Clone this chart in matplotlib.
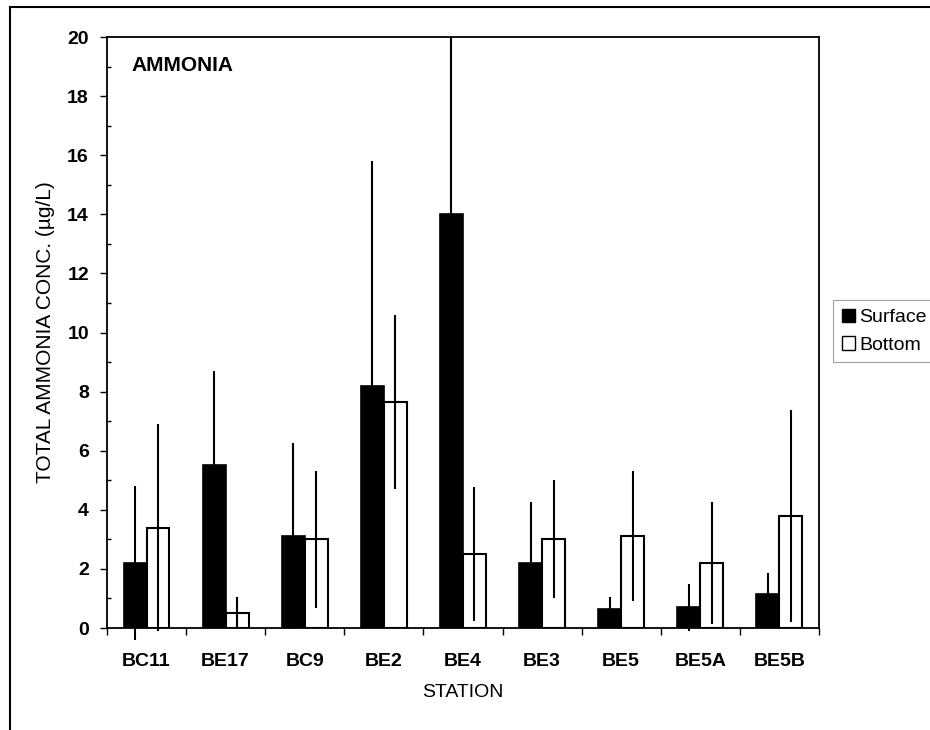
"""Ammonia concentrations by station, surface vs bottom."""

import matplotlib
matplotlib.use("Agg")
import matplotlib.pyplot as plt
import numpy as np
from matplotlib.lines import Line2D
from matplotlib.patches import Patch, Rectangle

plt.rcParams["font.family"] = ["Liberation Sans", "DejaVu Sans"]

stations = ["BC11", "BE17", "BC9", "BE2", "BE4", "BE3", "BE5", "BE5A", "BE5B"]
surface_mean = [2.2, 5.5, 3.1, 8.2, 14.0, 2.2, 0.65, 0.7, 1.15]
surface_sd = [2.6, 3.2, 3.15, 7.6, 7.5, 2.05, 0.4, 0.8, 0.7]
bottom_mean = [3.4, 0.52, 3.0, 7.65, 2.5, 3.0, 3.1, 2.2, 3.8]
bottom_sd = [3.5, 0.54, 2.33, 2.95, 2.26, 2.0, 2.2, 2.05, 3.58]

fig = plt.figure(figsize=(9.3, 7.3), dpi=100)
ax = fig.add_axes([0.115, 0.1397, 0.7656, 0.8096])

x = np.arange(len(stations))
w = 0.29
ax.bar(x - w / 2, surface_mean, w, color="black", edgecolor="black",
       linewidth=1.2, label="Surface", zorder=2)
ax.bar(x + w / 2, bottom_mean, w, color="white", edgecolor="black",
       linewidth=1.5, label="Bottom", zorder=2)

# error bars may poke below zero but are cut at the top of the plot
clip = Rectangle((0, -0.1), 1, 1.1, transform=ax.transAxes, visible=False)
ax.add_patch(clip)
for xs, m, s in [(x - w / 2, surface_mean, surface_sd),
                 (x + w / 2, bottom_mean, bottom_sd)]:
    eb = ax.errorbar(xs, m, yerr=s, fmt="none", ecolor="black",
                     elinewidth=1.5, capsize=0, zorder=3)
    for c in eb.lines[2]:
        c.set_clip_path(clip)

ax.set_xlim(-0.5, len(stations) - 0.5)
ax.set_ylim(0, 20)
ax.set_yticks(np.arange(0, 21, 2))
ax.set_yticks(np.arange(1, 20, 2), minor=True)
ax.set_xticks(x)
ax.set_xticklabels(stations, fontsize=14, fontweight="bold")
ax.set_xticks(np.arange(-0.5, len(stations), 1), minor=True)
ax.tick_params(axis="x", which="major", length=0, pad=18)
ax.tick_params(axis="x", which="minor", direction="out", length=5, width=1)
ax.tick_params(axis="y", which="major", direction="out", length=5, width=1,
               labelsize=14, pad=8)
ax.tick_params(axis="y", which="minor", direction="in", length=3, width=1)
for lbl in ax.get_yticklabels():
    lbl.set_fontweight("bold")
for sp in ax.spines.values():
    sp.set_linewidth(1.3)

ax.set_xlabel("STATION", fontsize=14, labelpad=10)
ax.set_ylabel("TOTAL AMMONIA CONC. (µg/L)", fontsize=15, labelpad=9)
ax.text(0.035, 0.951, "AMMONIA", transform=ax.transAxes, fontsize=15,
        fontweight="bold", va="center", ha="left")

handles = [Patch(facecolor="black", edgecolor="black", label="Surface"),
           Patch(facecolor="white", edgecolor="black", label="Bottom")]
leg = fig.legend(handles=handles, loc="upper left",
                 bbox_to_anchor=(833 / 930, 1 - 300 / 730), fontsize=14,
                 frameon=True, fancybox=False, handlelength=0.7,
                 handleheight=0.7, handletextpad=0.2, borderpad=0.45,
                 labelspacing=0.5, borderaxespad=0)
leg.get_frame().set_edgecolor("#888888")
leg.get_frame().set_linewidth(0.8)

# outer frame of the scanned page
fig.add_artist(Line2D([10 / 930, 1], [1 - 7 / 730] * 2, color="black",
                      lw=1.5, transform=fig.transFigure))
fig.add_artist(Line2D([10 / 930] * 2, [0, 1 - 7 / 730], color="black",
                      lw=1.5, transform=fig.transFigure))

fig.savefig("out.png", dpi=100)
plt.close(fig)
